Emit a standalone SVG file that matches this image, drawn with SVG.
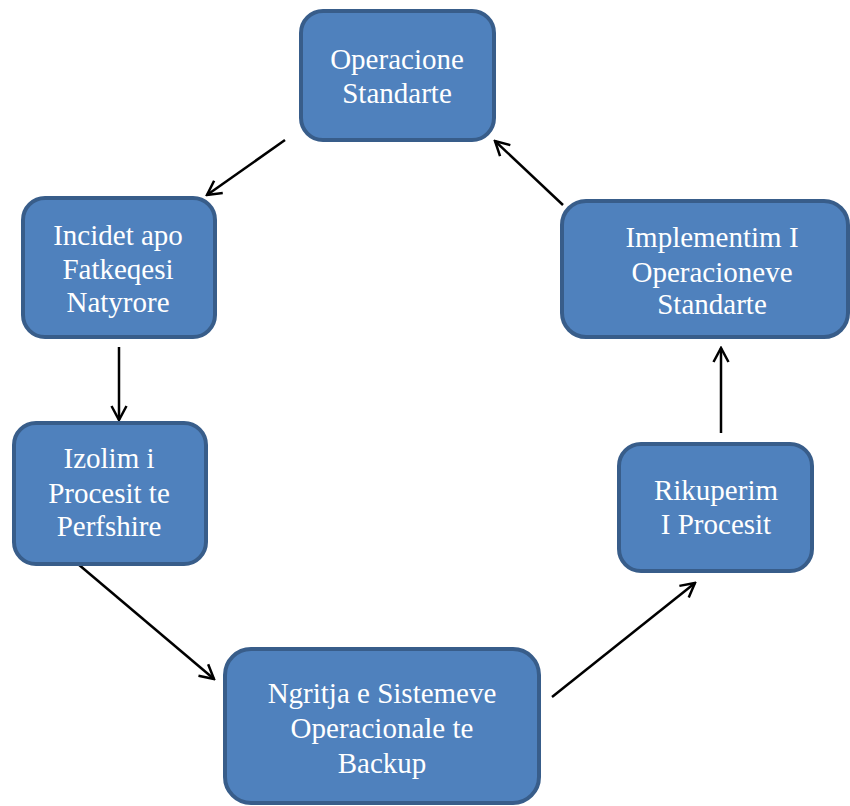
<svg xmlns="http://www.w3.org/2000/svg" width="850" height="806" viewBox="0 0 850 806">
<style>
.box{fill:#4f81bd;stroke:#385d8a;stroke-width:4}
.lbl{font-family:"Liberation Serif","Times New Roman",serif;font-size:29px;fill:#ffffff;text-anchor:middle}
.con{stroke:#000;stroke-width:2.5;fill:none;marker-end:url(#arr)}
</style>
<defs>
<marker id="arr" viewBox="-18 -10 20 20" markerWidth="20" markerHeight="20" refX="0" refY="0" orient="auto" markerUnits="userSpaceOnUse">
<path d="M-14,-7.5 L0,0 L-14,7.5" fill="none" stroke="#000" stroke-width="2.5"/>
</marker>
</defs>
<rect width="850" height="806" fill="#ffffff"/>
<g id="connectors">
<line class="con" x1="285" y1="140" x2="207" y2="195"/>
<line class="con" x1="119" y1="347" x2="119" y2="420"/>
<line class="con" x1="78" y1="564" x2="214" y2="679"/>
<line class="con" x1="552" y1="697" x2="695" y2="583"/>
<line class="con" x1="721" y1="433" x2="721" y2="348"/>
<line class="con" x1="563" y1="205" x2="495" y2="141"/>
</g>
<g id="n1">
<rect class="box" x="301" y="11" width="193" height="129" rx="22"/>
<text class="lbl" x="397" y="69">Operacione</text>
<text class="lbl" x="397" y="103">Standarte</text>
</g>
<g id="n2">
<rect class="box" x="23" y="198" width="192" height="139" rx="22"/>
<text class="lbl" x="118" y="245">Incidet apo</text>
<text class="lbl" x="118" y="279">Fatkeqesi</text>
<text class="lbl" x="118" y="312">Natyrore</text>
</g>
<g id="n3">
<rect class="box" x="14" y="423" width="192" height="141" rx="22"/>
<text class="lbl" x="109" y="468">Izolim i</text>
<text class="lbl" x="109" y="503">Procesit te</text>
<text class="lbl" x="109" y="536">Perfshire</text>
</g>
<g id="n4">
<rect class="box" x="225" y="649" width="314" height="154" rx="26"/>
<text class="lbl" x="382" y="703">Ngritja e Sistemeve</text>
<text class="lbl" x="382" y="738">Operacionale te</text>
<text class="lbl" x="382" y="773">Backup</text>
</g>
<g id="n5">
<rect class="box" x="619" y="444" width="193" height="127" rx="22"/>
<text class="lbl" x="716" y="500">Rikuperim</text>
<text class="lbl" x="716" y="534">I Procesit</text>
</g>
<g id="n6">
<rect class="box" x="562" y="201" width="286" height="136" rx="24"/>
<text class="lbl" x="712" y="247">Implementim I</text>
<text class="lbl" x="712" y="282">Operacioneve</text>
<text class="lbl" x="712" y="314">Standarte</text>
</g>
</svg>
